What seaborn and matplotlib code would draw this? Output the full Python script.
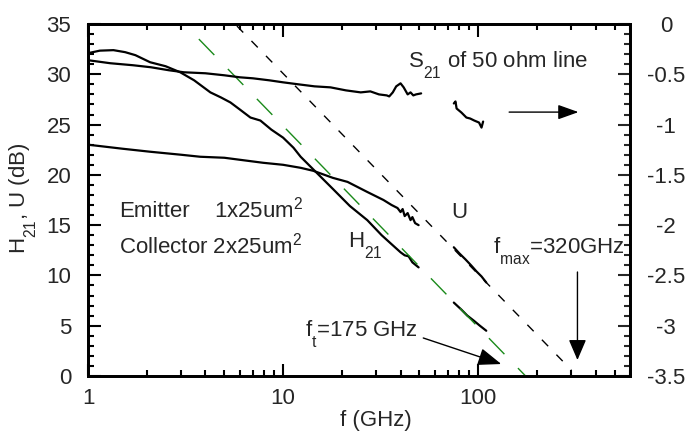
import matplotlib
matplotlib.use("Agg")
import matplotlib.pyplot as plt
import matplotlib._mathtext as _mt
import seaborn as sns
from matplotlib.ticker import MultipleLocator, FixedLocator, NullFormatter

# ---------------- data ----------------
# H21 (dB) vs frequency (GHz)
h21_f = [1.0, 1.15, 1.35, 1.55, 1.75, 2.08, 2.5, 2.97, 3.5, 4.24, 4.8, 5.37, 6.0,
         6.8, 7.65, 8.7, 10, 11.3, 12.3, 14.7, 18, 22, 27, 32, 36, 40, 42, 44, 46, 49.5]
h21_db = [32.1, 32.35, 32.4, 32.2, 31.9, 31.2, 30.8, 30.2, 29.4, 28.2, 27.7, 27.2, 26.5,
          25.7, 25.4, 24.5, 23.7, 22.7, 21.8, 20.3, 18.6, 16.9, 15.5, 14.0, 13.1, 12.3,
          12.0, 11.9, 11.3, 10.8]
h21_hf_f = [75, 82, 88, 95, 102, 110]
h21_hf_db = [7.3, 6.6, 6.0, 5.5, 5.0, 4.5]

# U (dB) vs frequency
u_f = [1.0, 1.5, 2.08, 3.0, 3.76, 5.0, 6.0, 7.9, 10, 12.3, 14.3, 18, 21.4, 27, 32.7,
       36, 38.6, 40, 41, 42, 43.5, 45, 46, 47.5, 49.5]
u_db = [23.0, 22.6, 22.3, 22.0, 21.8, 21.7, 21.5, 21.2, 21.0, 20.7, 20.4, 19.7, 19.3,
        18.3, 17.5, 17.0, 16.7, 16.3, 16.6, 15.9, 16.2, 15.5, 15.8, 15.2, 15.0]
u_hf_f = [75, 80, 86, 92, 98, 104, 110]
u_hf_db = [12.8, 12.2, 11.6, 11.0, 10.4, 9.9, 9.3]

# S21 of 50 ohm line (dB, right axis)
s21_f = [1.0, 1.3, 1.7, 2.1, 2.6, 3.1, 4.0, 5.0, 6.0, 7.0, 8.5, 10, 12, 14.5, 17.5,
         21, 25, 28, 31, 34, 35, 36.5, 38, 40, 41.5, 43.5, 45, 46.5, 48, 51]
s21_db = [-0.36, -0.39, -0.41, -0.43, -0.46, -0.48, -0.49, -0.51, -0.53, -0.54, -0.56,
          -0.58, -0.60, -0.62, -0.63, -0.66, -0.68, -0.67, -0.70, -0.71, -0.72, -0.68,
          -0.62, -0.59, -0.63, -0.70, -0.68, -0.71, -0.70, -0.69]
s21_hf_f = [75, 76.5, 77.5, 82, 87, 91, 95.5, 101, 104, 106]
s21_hf_db = [-0.79, -0.77, -0.84, -0.88, -0.93, -0.94, -0.96, -0.98, -1.03, -0.97]

# extrapolation lines (end points)
ft_line_f = [3.7, 175]
ft_line_db = [33.5, 0.0]
fmax_line_f = [5.8, 300]
fmax_line_db = [34.8, 0.6]

x_ticks = [1, 10, 100]
x_ticklabels = ["1", "10", "100"]
left_ticks = [0, 5, 10, 15, 20, 25, 30, 35]
right_ticks = [0, -0.5, -1, -1.5, -2, -2.5, -3, -3.5]
right_ticklabels = ["0", "-0.5", "-1", "-1.5", "-2", "-2.5", "-3", "-3.5"]

# ---------------- style ----------------
sns.set_style("ticks")
plt.rcParams["font.family"] = ["Liberation Sans", "DejaVu Sans"]
plt.rcParams["mathtext.fontset"] = "custom"
plt.rcParams["mathtext.rm"] = "Liberation Sans"
plt.rcParams["mathtext.it"] = "Liberation Sans"
plt.rcParams["mathtext.bf"] = "Liberation Sans"
plt.rcParams["mathtext.default"] = "regular"
plt.rcParams["axes.unicode_minus"] = False
# deeper subscripts, as in the reference
_mt.FontConstantsBase.sub1 = 0.95

FS = 16
W, H = 686, 432
fig = plt.figure(figsize=(W / 100, H / 100), dpi=100)
L, R, T, B = 88, 630, 24, 376
ax = fig.add_axes([L / W, 1 - B / H, (R - L) / W, (B - T) / H])
ax2 = ax.twinx()

lw_main = 1.6
kw = dict(estimator=None, sort=False, legend=False)
sns.lineplot(x=h21_f, y=h21_db, ax=ax, color="black", lw=lw_main, **kw)
sns.lineplot(x=u_f, y=u_db, ax=ax, color="black", lw=lw_main, **kw)
sns.lineplot(x=h21_hf_f, y=h21_hf_db, ax=ax, color="black", lw=lw_main, **kw)
sns.lineplot(x=u_hf_f, y=u_hf_db, ax=ax, color="black", lw=lw_main, **kw)
sns.lineplot(x=ft_line_f, y=ft_line_db, ax=ax, color="#1a8a1a", lw=1.0,
             linestyle=(0, (16, 14)), zorder=5, **kw)
sns.lineplot(x=fmax_line_f, y=fmax_line_db, ax=ax, color="black", lw=1.0,
             linestyle=(0, (6.5, 8.5)), zorder=5, **kw)

sns.lineplot(x=s21_f, y=s21_db, ax=ax2, color="black", lw=lw_main, **kw)
sns.lineplot(x=s21_hf_f, y=s21_hf_db, ax=ax2, color="black", lw=lw_main, **kw)

# ---------------- axes ----------------
ax.set_xscale("log")
ax.set_xlim(1, 600)
ax.set_ylim(0, 35)
ax2.set_ylim(-3.5, 0)

ax.set_xticks(x_ticks, x_ticklabels)
minor_x = [m * d for d in (1, 10, 100) for m in range(2, 10) if m * d <= 600]
ax.xaxis.set_minor_locator(FixedLocator(minor_x))
ax.xaxis.set_minor_formatter(NullFormatter())

ax.set_yticks(left_ticks, [str(t) for t in left_ticks])
ax.yaxis.set_minor_locator(MultipleLocator(1))
ax2.set_yticks(right_ticks, right_ticklabels, ha="center")
ax2.yaxis.set_minor_locator(MultipleLocator(0.1))

for a in (ax, ax2):
    for s in a.spines.values():
        s.set_linewidth(2)
        s.set_color("black")

ax.tick_params(axis="both", which="both", direction="in", top=True, right=False,
               width=1.5, color="black", labelsize=FS)
ax.tick_params(axis="both", which="major", length=9)
ax.tick_params(axis="both", which="minor", length=4.5)
ax.tick_params(axis="y", which="major", pad=12)
ax.tick_params(axis="x", which="major", pad=9)
ax2.tick_params(axis="y", which="both", direction="in", width=1.5, labelsize=FS)
ax2.tick_params(axis="y", which="major", length=9, pad=26)
ax2.tick_params(axis="y", which="minor", length=4.5)

ax.set_xlabel("f (GHz)", fontsize=FS)
ax.xaxis.set_label_coords((376 - L) / (R - L), -(410 - B) / (B - T))
ax.set_ylabel("H$_{21}$, U (dB)", fontsize=FS)
ax.yaxis.set_label_coords((39 - L) / (R - L), (B - 198) / (B - T))
ax2.set_ylabel("")

# ---------------- annotations ----------------
ax.text(43.6, 30.7, "S$_{21}$ of 50 ohm line", fontsize=FS, ha="left", va="baseline")
ax.text(1.45, 15.8, "Emitter", fontsize=FS, ha="left", va="baseline")
ax.text(4.45, 15.8, "1x25um$^{2}$", fontsize=FS, ha="left", va="baseline")
ax.text(1.45, 12.2, "Collector 2x25um$^{2}$", fontsize=FS, ha="left", va="baseline")
ax.text(72.5, 15.7, "U", fontsize=FS, ha="left", va="baseline")
ax.text(21.4, 12.8, "H$_{21}$", fontsize=FS, ha="left", va="baseline")
ax.text(118.9, 12.2, "f$_{max}$=320GHz", fontsize=FS, ha="left", va="baseline")
ax.text(12.9, 3.9, "f$_{t}$=175 GHz", fontsize=FS, ha="left", va="baseline")

ax.annotate("", xy=(326.6, 26.24), xytext=(144.1, 26.24),
            arrowprops=dict(arrowstyle="-|>,head_length=0.7,head_width=0.25",
                            color="black", lw=1.0, mutation_scale=18,
                            shrinkA=0, shrinkB=0))
ax.annotate("", xy=(322.7, 1.59), xytext=(322.7, 10.34),
            arrowprops=dict(arrowstyle="-|>,head_length=0.7,head_width=0.3",
                            color="black", lw=1.0, mutation_scale=18,
                            shrinkA=0, shrinkB=0))
ax.annotate("", xy=(131.3, 1.19), xytext=(52.3, 3.78),
            arrowprops=dict(arrowstyle="-|>,head_length=0.8,head_width=0.3",
                            color="black", lw=1.0, mutation_scale=18,
                            shrinkA=0, shrinkB=0))

fig.savefig("out.png", dpi=100)
